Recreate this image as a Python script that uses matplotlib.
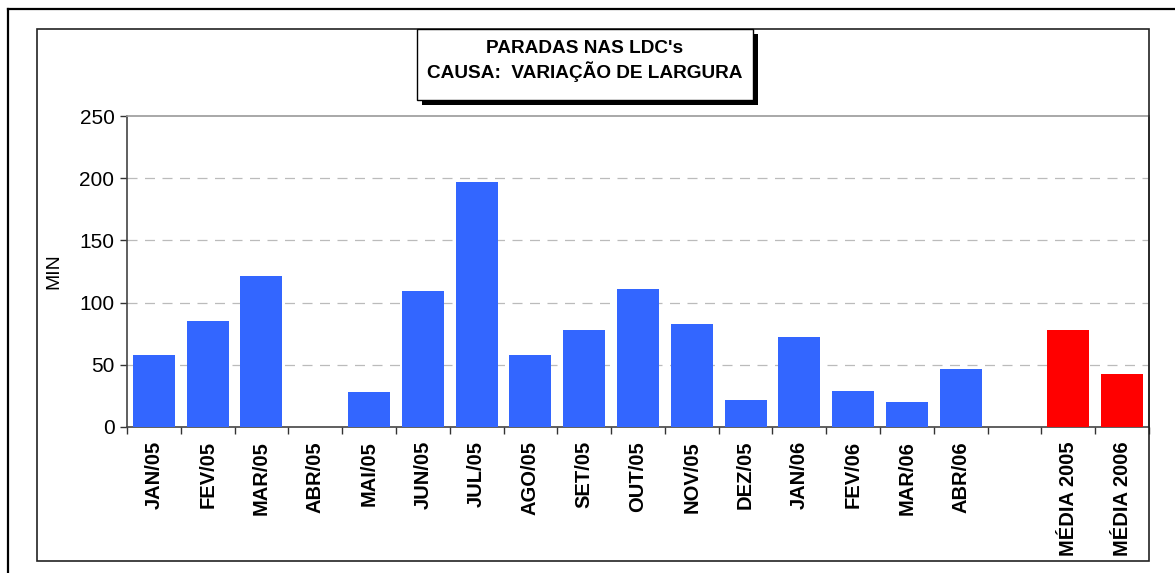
import numpy as np
import matplotlib.pyplot as plt
from matplotlib.patches import Rectangle
from matplotlib.lines import Line2D
from matplotlib.ticker import FixedLocator

plt.rcParams['font.family'] = ['Liberation Sans', 'DejaVu Sans']

meses = ['JAN/05', 'FEV/05', 'MAR/05', 'ABR/05', 'MAI/05', 'JUN/05', 'JUL/05',
         'AGO/05', 'SET/05', 'OUT/05', 'NOV/05', 'DEZ/05', 'JAN/06', 'FEV/06',
         'MAR/06', 'ABR/06']
valores = [58, 85, 121, 0, 28, 109, 197, 58, 78, 111, 83, 22, 72, 29, 20, 47]
medias = ['MÉDIA 2005', 'MÉDIA 2006']
valores_medias = [78, 43]
titulo = "PARADAS NAS LDC's\nCAUSA:  VARIAÇÃO DE LARGURA"

W, H = 1175, 573
fig = plt.figure(figsize=(W / 100, H / 100), dpi=100)


def fx(px):
    return px / W


def fy(py):
    return 1 - py / H


# outer frame (cut at right/bottom) and inner chart box
fig.add_artist(Line2D([fx(8), fx(8)], [fy(9), 0], color='black', lw=1.6, transform=fig.transFigure))
fig.add_artist(Line2D([fx(8), 1], [fy(9), fy(9)], color='black', lw=1.6, transform=fig.transFigure))
fig.add_artist(Rectangle((fx(37), fy(561)), fx(1149 - 37), (561 - 29) / H, fill=False,
                         ec='#222222', lw=1.2, transform=fig.transFigure))

ax = fig.add_axes([fx(127), fy(427), fx(1149 - 127), (427 - 116) / H])

n = len(meses) + 1 + len(medias)
x = np.arange(n)
ax.bar(x[:len(meses)], valores, width=0.78, color='#3366FF', zorder=3)
ax.bar(x[len(meses) + 1:], valores_medias, width=0.78, color='#FF0000', zorder=3)

ax.set_xlim(-0.5, n - 0.5)
ax.set_ylim(0, 250)
ax.set_yticks(np.arange(0, 251, 50))
ax.tick_params(axis='y', labelsize=15, length=5, width=1, color='#333333', direction='out', pad=4)

ax.set_xticks(x)
ax.set_xticklabels(meses + [''] + medias, rotation=90, fontsize=14.5, fontweight='bold')
ax.tick_params(axis='x', which='major', length=0, pad=10)
ax.xaxis.set_minor_locator(FixedLocator(np.arange(-0.5, n, 1)))
ax.tick_params(axis='x', which='minor', length=5, width=1, color='#333333', direction='out')

ax.set_ylabel('MIN', fontsize=14)
ax.yaxis.set_label_coords((62 - 127) / 1022, 0.5)

for v in [50, 100, 150, 200]:
    ax.axhline(v, color='#bbbbbb', lw=0.9, ls=(0, (8, 6)), zorder=1)

ax.spines['top'].set_color('#999999')
ax.spines['left'].set_color('#444444')
ax.spines['bottom'].set_color('#444444')
ax.spines['right'].set_color('#444444')
for s in ax.spines.values():
    s.set_linewidth(1.2)

# title box with shadow
fig.add_artist(Rectangle((fx(422), fy(105)), fx(753 - 417), (100 - 29) / H, fc='black', ec='none',
                         transform=fig.transFigure, zorder=5))
fig.add_artist(Rectangle((fx(417), fy(100)), fx(753 - 417), (100 - 29) / H, fc='white', ec='black',
                         lw=1.0, transform=fig.transFigure, zorder=6))
fig.text(fx(585), fy(61), titulo, ha='center', va='center', fontsize=13.7, fontweight='bold',
         linespacing=1.3, zorder=7)

fig.savefig('out.png', dpi=100)
